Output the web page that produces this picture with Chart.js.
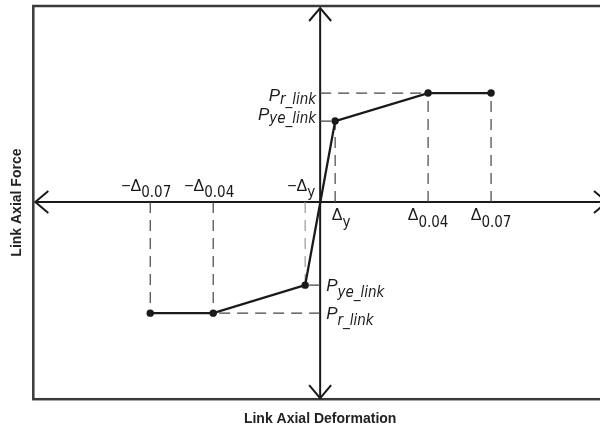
<!DOCTYPE html>
<html>
<head>
<meta charset="utf-8">
<title>Link Axial Force vs Deformation</title>
<script src="https://cdn.jsdelivr.net/npm/chart.js@4.4.0/dist/chart.umd.min.js"></script>
<style>
  html, body { margin: 0; padding: 0; background: #fff; overflow: hidden; }
  canvas { display: block; }
</style>
</head>
<body>
<canvas id="link-chart" width="614" height="434"></canvas>
<script>
// Backbone of the link response (schematic units)
const deformationValues = [-170, -107, -15, 15, 108, 171];
const forceValues = [-111, -111, -83, 81, 109, 109];

// Labels on the deformation axis: symbol + subscript
const deformationSymbols = ["−Δ", "−Δ", "−Δ", "Δ", "Δ", "Δ"];
const deformationSubs = ["0.07", "0.04", "y", "y", "0.04", "0.07"];

// Force levels marked next to the vertical axis (by point index)
const forcePoints = [1, 2, 3, 4];
const forceSubs = ["r_link", "ye_link", "ye_link", "r_link"];

const INK = "#1a1a1a";
const GUIDE = "#444";
const SANS = "'Liberation Sans', Arial, sans-serif";
const NARROW = "'Liberation Sans Narrow', 'DejaVu Sans Condensed', 'Liberation Sans', sans-serif";

// main curve
const datasets = [
  {
    data: deformationValues.map((x, i) => ({ x: x, y: forceValues[i] })),
    showLine: true,
    borderColor: INK,
    borderWidth: 2.3,
    pointRadius: 3.7,
    pointBackgroundColor: INK,
    pointBorderWidth: 0,
    order: 0,
  },
];

// dashed drops from every point to the deformation axis
deformationValues.forEach(function (x, i) {
  datasets.push({
    data: [{ x: x, y: 0 }, { x: x, y: forceValues[i] }],
    showLine: true,
    borderColor: i == 2 ? "#999" : GUIDE,
    borderWidth: 1.2,
    borderDash: [11, 7],
    pointRadius: 0,
    order: 1,
  });
});

// dashed lines from the force axis out to the inner points
forcePoints.forEach(function (i) {
  datasets.push({
    data: [{ x: 0, y: forceValues[i] }, { x: deformationValues[i], y: forceValues[i] }],
    showLine: true,
    borderColor: GUIDE,
    borderWidth: 1.2,
    borderDash: [11, 7],
    pointRadius: 0,
    order: 1,
  });
});

function arrowHead(ctx, x, y, dx, dy) {
  // open chevron pointing along (dx, dy)
  const len = 13, half = 11;
  const px = -dy, py = dx;
  ctx.beginPath();
  ctx.moveTo(x - dx * len + px * half, y - dy * len + py * half);
  ctx.lineTo(x, y);
  ctx.lineTo(x - dx * len - px * half, y - dy * len - py * half);
  ctx.stroke();
}

const axesPlugin = {
  id: "axesPlugin",
  beforeDatasetsDraw(chart) {
    const { ctx, chartArea: a, scales } = chart;
    const ox = scales.x.getPixelForValue(0);
    const oy = scales.y.getPixelForValue(0);
    ctx.save();
    // frame
    ctx.strokeStyle = "#3a3a3a";
    ctx.lineWidth = 2.5;
    ctx.strokeRect(a.left, a.top, a.right - a.left, a.bottom - a.top);
    // axes with arrows
    ctx.strokeStyle = INK;
    ctx.lineWidth = 2;
    ctx.beginPath();
    ctx.moveTo(a.left + 2, oy);
    ctx.lineTo(a.right, oy);
    ctx.moveTo(ox, a.top + 2);
    ctx.lineTo(ox, a.bottom - 1);
    ctx.stroke();
    arrowHead(ctx, a.left + 2, oy, -1, 0);
    arrowHead(ctx, a.right, oy, 1, 0);
    arrowHead(ctx, ox, a.top + 2, 0, -1);
    arrowHead(ctx, ox, a.bottom - 1, 0, 1);
    ctx.restore();
  },
};

function subLabel(ctx, main, sub, x, y, align, mainFont, subFont, drop) {
  ctx.font = mainFont;
  const w1 = ctx.measureText(main).width;
  ctx.font = subFont;
  const w2 = ctx.measureText(sub).width;
  let left = x;
  if (align == "right") left = x - w1 - w2;
  if (align == "center") left = x - (w1 + w2) / 2;
  ctx.font = mainFont;
  ctx.fillText(main, left, y);
  ctx.font = subFont;
  ctx.fillText(sub, left + w1, y + drop);
}

const labelPlugin = {
  id: "labelPlugin",
  afterDatasetsDraw(chart) {
    const { ctx, scales } = chart;
    const ox = scales.x.getPixelForValue(0);
    const oy = scales.y.getPixelForValue(0);
    ctx.save();
    ctx.fillStyle = INK;
    ctx.textBaseline = "alphabetic";
    ctx.textAlign = "left";

    // deformation labels: below the axis on the right, above on the left
    deformationValues.forEach(function (v, i) {
      const px = scales.x.getPixelForValue(v);
      if (v > 0) {
        const shift = deformationSubs[i] == "y" ? 6 : 0;
        subLabel(ctx, deformationSymbols[i], deformationSubs[i], px + shift, oy + 18,
          "center", "16px " + SANS, "15px " + NARROW, 7);
      } else {
        subLabel(ctx, deformationSymbols[i], deformationSubs[i], px - 4, oy - 11,
          "center", "16px " + SANS, "15px " + NARROW, 6);
      }
    });

    // force labels: left of the axis for tension, right for compression
    forcePoints.forEach(function (idx, k) {
      const py = scales.y.getPixelForValue(forceValues[idx]);
      if (forceValues[idx] > 0) {
        const dy = forceSubs[k] == "r_link" ? 8 : -1;
        subLabel(ctx, "P", forceSubs[k], ox - 4, py + dy, "right",
          "italic 17px " + SANS, "italic 15px " + NARROW, 3);
      } else {
        subLabel(ctx, "P", forceSubs[k], ox + 6, py + 6, "left",
          "italic 17px " + SANS, "italic 15px " + NARROW, 6);
      }
    });
    ctx.restore();
  },
};

new Chart(document.getElementById("link-chart"), {
  type: "scatter",
  data: { datasets: datasets },
  options: {
    responsive: false,
    animation: false,
    events: [],
    layout: { padding: { top: 6, right: 7, left: 5, bottom: 0 } },
    plugins: {
      legend: { display: false },
      tooltip: { enabled: false },
    },
    scales: {
      x: {
        type: "linear",
        min: -287,
        max: 287,
        grid: { display: false, drawTicks: false },
        border: { display: false },
        ticks: { display: false },
        title: {
          display: true,
          text: "Link Axial Deformation",
          color: "#222",
          font: { family: SANS, size: 14, weight: "bold" },
          padding: { top: 12, bottom: 6 },
        },
      },
      y: {
        type: "linear",
        min: -197,
        max: 196,
        grid: { display: false, drawTicks: false },
        border: { display: false },
        ticks: { display: false },
        title: {
          display: true,
          text: "Link Axial Force",
          color: "#222",
          font: { family: SANS, size: 14, weight: "bold" },
          padding: { top: 4, bottom: 7.5 },
        },
      },
    },
  },
  plugins: [axesPlugin, labelPlugin],
});
</script>
</body>
</html>
